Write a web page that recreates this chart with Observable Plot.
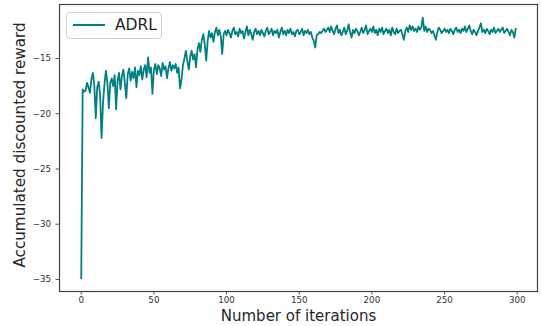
<!DOCTYPE html>
<html><head><meta charset="utf-8">
<script src="https://cdn.jsdelivr.net/npm/d3@7"></script>
<script src="https://cdn.jsdelivr.net/npm/@observablehq/plot@0.6"></script>
<style>
body{margin:0;background:#fff;}
#wrap{position:relative;width:541px;height:326px;font-family:"DejaVu Sans",sans-serif;}
.legend{position:absolute;left:66px;top:12px;width:96px;height:27px;border:1px solid #d0d0d0;border-radius:4px;background:rgba(255,255,255,0.85);box-sizing:border-box;}
.legend .sw{position:absolute;left:6px;top:11px;width:32px;height:0;border-top:2px solid #008080;}
.legend .lb{position:absolute;left:48px;top:3px;font-size:15.5px;color:#262626;line-height:18px;}
</style></head><body><div id="wrap"></div>
<script>
const seriesName = "ADRL";
const xLabel = "Number of iterations";
const yLabel = "Accumulated discounted reward";
const xTicks = [0, 50, 100, 150, 200, 250, 300];
const yTicks = [-35, -30, -25, -20, -15];
const rewards = [
-34.9,-17.8,-18.0,-17.9,-17.2,-17.6,-18.1,-16.9,-16.3,-17.4,
-20.4,-17.6,-17.1,-18.3,-22.2,-19.0,-17.3,-16.1,-17.2,-19.5,
-17.2,-16.8,-17.5,-16.5,-19.6,-17.0,-16.3,-17.8,-16.6,-16.0,
-17.2,-18.6,-16.4,-15.9,-17.0,-16.2,-16.8,-15.8,-17.6,-16.1,
-16.5,-15.7,-16.9,-16.0,-15.6,-16.7,-14.9,-16.3,-15.8,-18.2,
-16.0,-15.5,-16.4,-15.6,-15.9,-16.6,-15.4,-16.0,-15.7,-16.8,
-15.9,-15.3,-16.1,-15.6,-15.9,-15.5,-16.3,-15.8,-17.7,-16.9,
-15.6,-15.0,-14.3,-15.2,-16.0,-14.8,-14.3,-15.1,-14.6,-15.8,
-14.2,-13.6,-14.4,-13.3,-12.8,-13.7,-15.2,-13.4,-12.5,-13.1,
-12.7,-13.5,-12.6,-12.2,-12.9,-12.4,-13.0,-14.6,-12.8,-12.5,
-12.9,-12.4,-12.7,-13.1,-12.5,-12.2,-12.8,-12.6,-13.0,-12.3,
-12.7,-12.5,-13.2,-12.6,-12.1,-12.9,-12.4,-12.8,-13.3,-12.6,
-12.3,-12.8,-12.5,-12.9,-12.4,-12.7,-13.0,-12.5,-12.2,-12.8,
-12.6,-12.3,-12.9,-12.5,-12.7,-12.4,-13.1,-12.6,-12.2,-12.8,
-12.5,-12.9,-12.4,-12.7,-12.3,-12.8,-12.6,-13.0,-12.5,-12.4,
-12.8,-12.6,-12.3,-12.9,-12.5,-12.7,-12.4,-12.8,-12.6,-13.1,
-13.4,-14.0,-12.9,-12.8,-12.6,-12.7,-12.5,-12.3,-12.6,-12.4,
-12.2,-12.6,-12.1,-12.5,-12.8,-12.3,-12.0,-12.7,-12.4,-12.9,
-12.6,-12.2,-12.8,-12.5,-11.9,-12.6,-13.1,-12.4,-12.7,-12.3,
-12.5,-12.9,-12.6,-12.2,-12.7,-12.4,-12.0,-12.8,-12.5,-12.3,
-12.6,-12.1,-12.7,-12.4,-12.9,-12.3,-12.6,-12.2,-12.8,-12.5,
-12.3,-12.7,-12.4,-12.9,-12.2,-12.6,-12.8,-12.3,-12.7,-12.5,
-12.4,-12.8,-13.3,-12.5,-12.2,-12.6,-12.0,-12.4,-12.1,-12.5,
-12.3,-12.6,-12.1,-12.4,-12.2,-11.3,-12.5,-12.1,-12.6,-12.3,
-12.4,-12.7,-12.5,-12.9,-13.3,-12.6,-12.2,-12.4,-12.7,-12.5,
-12.3,-12.6,-12.4,-12.7,-12.3,-12.5,-12.8,-12.4,-12.2,-12.6,
-12.4,-12.7,-12.3,-12.5,-12.1,-12.6,-12.3,-12.0,-12.5,-12.8,
-12.4,-12.6,-12.9,-12.5,-12.2,-11.8,-12.6,-12.4,-12.7,-12.3,
-12.5,-12.8,-12.4,-12.6,-12.2,-12.7,-12.5,-12.3,-12.6,-12.4,
-12.2,-12.7,-12.5,-12.3,-12.6,-12.9,-12.4,-12.6,-13.1,-12.3
];
const data = rewards.map((r, i) => ({iteration: i, reward: r}));
const minus = d => String(d).replace("-", "\u2212");
const chart = Plot.plot({
  width: 541, height: 326,
  marginLeft: 59, marginRight: 4, marginTop: 4, marginBottom: 35,
  style: {fontFamily: "DejaVu Sans, sans-serif", background: "white"},
  x: {domain: [-14.95, 313.95]},
  y: {domain: [-36.09, -10.11]},
  marks: [
    Plot.line(data, {x: "iteration", y: "reward", stroke: "#008080", strokeWidth: 1.8}),
    Plot.frame({stroke: "#444", strokeWidth: 1.2}),
    Plot.axisX({ticks: xTicks, tickSize: 3.5, tickPadding: 2, fontSize: 8.7, label: null, stroke: "#555", fill: "#333"}),
    Plot.axisY({ticks: yTicks, tickSize: 3.5, tickPadding: 5, fontSize: 8.7, label: null, tickFormat: minus, stroke: "#555", fill: "#333"}),
    Plot.text([xLabel], {frameAnchor: "bottom", textAnchor: "middle", lineAnchor: "middle", dy: 25, fontSize: 15, fill: "#262626"}),
    Plot.text([yLabel], {frameAnchor: "left", textAnchor: "middle", lineAnchor: "middle", rotate: -90, dx: -39, dy: -3, fontSize: 15.2, fill: "#262626"})
  ]
});
const wrap = document.getElementById("wrap");
wrap.appendChild(chart);
const lg = document.createElement("div");
lg.className = "legend";
lg.innerHTML = `<div class="sw"></div><div class="lb">${seriesName}</div>`;
wrap.appendChild(lg);
</script></body></html>
